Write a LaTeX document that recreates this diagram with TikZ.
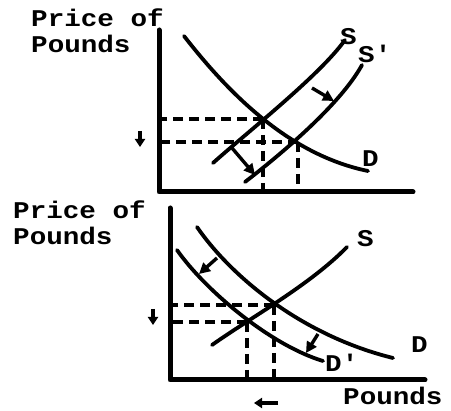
\documentclass[tikz,border=0pt]{standalone}
\usepackage{fontspec}
\setmonofont[FakeStretch=1.15]{Liberation Mono}
\usetikzlibrary{arrows.meta, positioning, calc}

\begin{document}
\begin{tikzpicture}[
    x=1pt, y=-1pt,
    lbl/.style={font=\ttfamily\bfseries\fontsize{24}{26}\selectfont,
        inner sep=0pt, anchor=base west},
    ylab/.style={lbl, align=left, anchor=north west},
    axis/.style={line width=5pt, line cap=round, line join=round},
    curve/.style={line width=3.8pt, line cap=round},
    guide/.style={line width=3.2pt, dash pattern=on 10pt off 6pt},
    shiftarrow/.style={line width=3.4pt, -{Triangle[length=11pt,width=11pt]}},
    tickarrow/.style={line width=3.6pt, -{Triangle[length=8pt,width=10pt]}}
]
\useasboundingbox (0,0) rectangle (451,411);

% ---------- top panel: supply of pounds rises ----------
\node[ylab] (ylabA) at (31,9) {Price of\\Pounds};

\coordinate (oA) at (159,192);
\draw[axis] (159,30) -- (oA) -- (413,192);

% equilibria
\coordinate (eA1) at (263,119);
\coordinate (eA2) at (298,142);

\draw[curve] (184,36) .. controls (230,95) and (290,155) .. (368,171);
\draw[curve] (213,163) .. controls (250,130) and (320,75) .. (345,40);
\draw[curve] (245,182) .. controls (280,155) and (340,105) .. (362,65);

\node[lbl] (sA) at (340,45) {S};
\node[lbl] (sA2) at (358,63) {S'};
\node[lbl] (dA) at (362,167) {D};

\draw[guide] (eA1) -- (eA1 -| oA);
\draw[guide] (eA2) -- (eA2 -| oA);
\draw[guide] (eA1) -- (eA1 |- oA);
\draw[guide] (eA2) -- (eA2 |- oA);

% shift of supply
\coordinate (aA1) at (312,88);
\coordinate (aA2) at (334,101);
\coordinate (aA3) at (232,148);
\coordinate (aA4) at (255,175);
\draw[shiftarrow] (aA1) -- (aA2);
\draw[shiftarrow] (aA3) -- (aA4);

% price falls
\coordinate (pA1) at (140,131);
\coordinate (pA2) at (140,147);
\draw[tickarrow] (pA1) -- (pA2);

% ---------- bottom panel: demand for pounds falls ----------
\node[ylab] (ylabB) at (13,201) {Price of\\Pounds};
\node[lbl] (xlabB) at (343,405) {Pounds};

\coordinate (oB) at (170,380);
\draw[axis] (170,208) -- (oB) -- (425,380);

\coordinate (eB1) at (274,305);
\coordinate (eB2) at (247,322);

\draw[curve] (197,227) .. controls (230,275) and (300,335) .. (393,358);
\draw[curve] (177,250) .. controls (205,290) and (270,345) .. (323,361);
\draw[curve] (212,345) .. controls (250,318) and (310,285) .. (347,247);

\node[lbl] (sB) at (357,247) {S};
\node[lbl] (dB) at (411,353) {D};
\node[lbl] (dB2) at (325,372) {D'};

\draw[guide] (eB1) -- (eB1 -| oB);
\draw[guide] (eB2) -- (eB2 -| oB);
\draw[guide] (eB1) -- (eB1 |- oB);
\draw[guide] (eB2) -- (eB2 |- oB);

% shift of demand
\coordinate (aB1) at (217,258);
\coordinate (aB2) at (199,274);
\coordinate (aB3) at (318,334);
\coordinate (aB4) at (306,353);
\draw[shiftarrow] (aB1) -- (aB2);
\draw[shiftarrow] (aB3) -- (aB4);

% price and quantity fall
\coordinate (pB1) at (153,309);
\coordinate (pB2) at (153,325);
\draw[tickarrow] (pB1) -- (pB2);
\coordinate (qB1) at (278,403);
\coordinate (qB2) at (254,403);
\draw[tickarrow] (qB1) -- (qB2);

\end{tikzpicture}
\end{document}
